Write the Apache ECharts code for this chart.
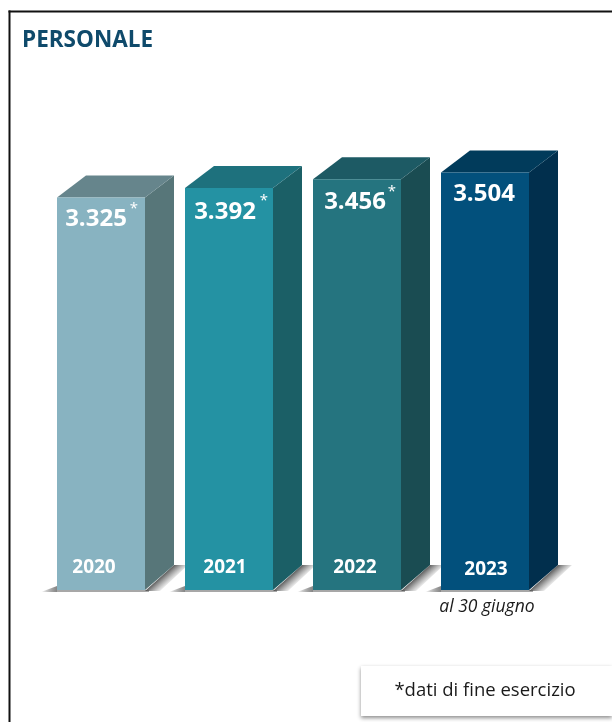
<!DOCTYPE html>
<html>
<head>
<meta charset="utf-8">
<style>html,body{margin:0;padding:0;background:#fff}#chart{width:612px;height:722px}</style>
<script src="https://cdn.jsdelivr.net/npm/echarts@6/dist/echarts.min.js"></script>
</head>
<body>
<div id="chart"></div>
<script>
// Staff headcount by year
const years = ['2020', '2021', '2022', '2023'];
const headcount = [3325, 3392, 3456, 3504];
const provisional = [true, true, true, false];

// Face colours of each block
const frontColors = ['#88b3c1', '#2492a3', '#25747f', '#02507c'];
const topColors = ['#66858c', '#1e717d', '#1d5a64', '#013b5b'];
const sideColors = ['#577679', '#1b5f66', '#1a4c52', '#012f4d'];

// Label placement relative to each block's front face
const valueNudge = [[-5, 22], [-4, 24], [-2, 23], [-1, 22]];
const starNudge = [[33, 11], [35, 13], [35, 13]];
const yearNudge = [-7, -4, -2, 1];
const yearRise = [22, 22, 22, 20];

const DEPTH_X = 29;
const DEPTH_Y = 22;
const FONT = '"Open Sans", "Noto Sans", sans-serif';

const fmt = v => String(v).replace(/\B(?=(\d{3})+$)/g, '.');

function renderBlock(params, api) {
  const i = params.dataIndex;
  const top = api.coord([i, api.value(1)]);
  const base = api.coord([i, 520]);
  const w = api.size([1, 0])[0] * 0.6875;
  const cx = top[0], l = cx - w / 2, r = cx + w / 2, t = top[1], b = base[1];
  const shade = (x0, y0, x1, y1, a0, a1) => ({
    type: 'linear', global: true, x: x0, y: y0, x2: x1, y2: y1,
    colorStops: [{ offset: 0, color: `rgba(70,70,70,${a0})` }, { offset: 1, color: `rgba(120,120,120,${a1})` }]
  });
  const poly = (points, fill) => ({ type: 'polygon', shape: { points }, style: { fill } });
  const text = (x, y, str, fontSize, fontWeight) => ({
    type: 'text', x, y,
    style: { text: str, fill: '#fff', font: `${fontWeight} ${fontSize}px ${FONT}`, align: 'center', verticalAlign: 'middle' }
  });

  const children = [
    // floor shadows
    poly([[l - 16, b + 2], [l, b - 4], [l, b + 2]], shade(l - 16, b, l, b, 0, 0.9)),
    poly([[l, b], [r + 4, b], [r + 4, b + 2], [l, b + 2]], 'rgba(130,130,130,0.7)'),
    poly([[r, b + 1], [r + DEPTH_X, b - 25], [r + DEPTH_X + 14, b - 25], [r + 15, b + 1]],
      shade(r + 14, b - 12, r + 22, b - 3, 0.9, 0)),
    // block faces
    poly([[r, t], [r + DEPTH_X, t - DEPTH_Y], [r + DEPTH_X, b - 25], [r, b]], sideColors[i]),
    poly([[l, t], [l + DEPTH_X, t - DEPTH_Y], [r + DEPTH_X, t - DEPTH_Y], [r, t]], topColors[i]),
    poly([[l, t], [r, t], [r, b], [l, b]], frontColors[i]),
    // value and year
    text(cx + valueNudge[i][0], t + valueNudge[i][1], fmt(api.value(1)), 24, 700),
    text(cx + yearNudge[i], b - yearRise[i], years[i], 19, 700)
  ];
  if (provisional[i]) {
    children.push(text(cx + starNudge[i][0], t + starNudge[i][1], '*', 15, 400));
  }
  return { type: 'group', children };
}

const chart = echarts.init(document.getElementById('chart'), null, { renderer: 'canvas' });
chart.setOption({
  animation: false,
  backgroundColor: '#fff',
  title: {
    text: 'PERSONALE', left: 17, top: 24,
    textStyle: { color: '#0f4a6b', fontFamily: FONT, fontSize: 22.5, fontWeight: 700 }
  },
  grid: { left: 37, width: 512, top: 103, height: 487 },
  xAxis: { type: 'category', data: years, show: false },
  yAxis: { type: 'value', min: 520, max: 4000, show: false },
  series: [{
    type: 'custom',
    coordinateSystem: 'cartesian2d',
    renderItem: renderBlock,
    encode: { x: 0, y: 1 },
    data: headcount.map((v, i) => [i, v]),
    clip: false,
    silent: true
  }],
  graphic: [
    // page frame
    { type: 'rect', shape: { x: 8.5, y: 10.5, width: 2, height: 712 }, style: { fill: '#111' }, silent: true },
    { type: 'rect', shape: { x: 8.5, y: 10.5, width: 604, height: 2 }, style: { fill: '#111' }, silent: true },
    // footnote box
    {
      type: 'rect', shape: { x: 361, y: 666, width: 251, height: 50 },
      style: { fill: '#fff', shadowColor: 'rgba(0,0,0,0.45)', shadowBlur: 4, shadowOffsetY: 2 }, silent: true
    },
    {
      type: 'text', x: 485, y: 691, silent: true,
      style: { text: '*dati di fine esercizio', fill: '#1a1a1a', font: `400 18.5px ${FONT}`, align: 'center', verticalAlign: 'middle' }
    },
    {
      type: 'text', x: 487, y: 607, silent: true,
      style: { text: 'al 30 giugno', fill: '#1a1a1a', font: `italic 400 17.5px ${FONT}`, align: 'center', verticalAlign: 'middle' }
    }
  ]
});
</script>
</body>
</html>
